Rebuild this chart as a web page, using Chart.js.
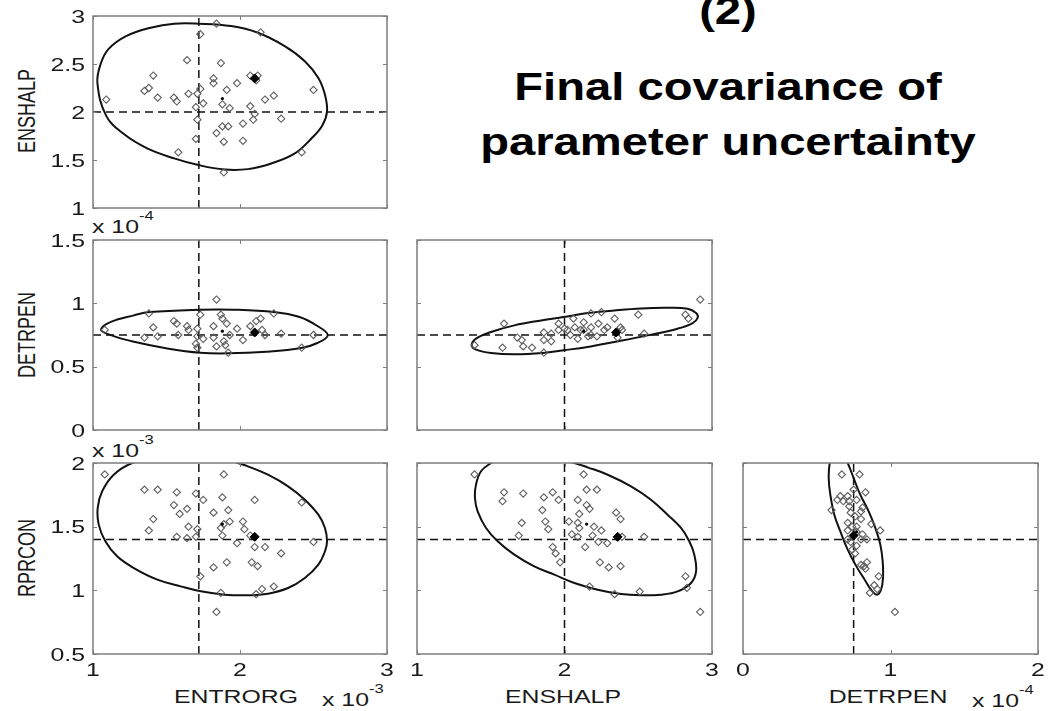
<!DOCTYPE html>
<html>
<head>
<meta charset="utf-8">
<title>Final covariance of parameter uncertainty</title>
<script src="https://cdn.jsdelivr.net/npm/chart.js@4.4.1/dist/chart.umd.min.js"></script>
<style>
  html, body { margin: 0; padding: 0; background: #fff; }
  #page { position: relative; width: 1053px; height: 711px; overflow: hidden;
          font-family: "Liberation Sans", Arial, Helvetica, sans-serif; color: #1a1a1a; }
  #page canvas { position: absolute; }
  .lbl { position: absolute; font-size: 18px; line-height: 18px; white-space: nowrap; }
  .xt { width: 200px; text-align: center; transform: scaleX(1.38); }
  .yt { transform: translate(-50%, -50%) scaleX(1.38) rotate(-90deg); }
  .ex { transform: scaleX(1.38); transform-origin: 0 0; }
  .ex span { position: relative; top: -13px; font-size: 12px; }
  .ttl { position: absolute; left: 428px; width: 600px; text-align: center; font-weight: bold;
         font-size: 39px; line-height: 39px; color: #000; transform: scaleX(1.21); white-space: nowrap; }
</style>
</head>
<body>
<div id="page">
  <div class="ttl" style="top:-9px">(2)</div>
  <div class="ttl" style="top:67px">Final covariance of</div>
  <div class="ttl" style="top:122px">parameter uncertainty</div>

  <div class="lbl yt" style="left:27px; top:111px">ENSHALP</div>
  <div class="lbl yt" style="left:27px; top:335px">DETRPEN</div>
  <div class="lbl yt" style="left:27px; top:558px">RPRCON</div>

  <div class="lbl xt" style="left:136px; top:688px">ENTRORG</div>
  <div class="lbl xt" style="left:463px; top:688px">ENSHALP</div>
  <div class="lbl xt" style="left:788px; top:688px">DETRPEN</div>

  <div class="lbl ex" style="left:92px; top:218px">x 10<span>-4</span></div>
  <div class="lbl ex" style="left:92px; top:442px">x 10<span>-3</span></div>
  <div class="lbl ex" style="left:322px; top:691px">x 10<span>-3</span></div>
  <div class="lbl ex" style="left:972px; top:692px">x 10<span>-4</span></div>
</div>
<script>
// reference (prior) values of the four parameters, scaled units
var refEntrorg = 1.72;   // x 10^-3
var refEnshalp = 2.0;
var refDetrpen = 0.75;   // x 10^-4
var refRprcon = 1.4;     // x 10^-3

// ensemble members, one [x, y] list per panel
var entrorgEnshalp = [[1.84,2.92],[2.14,2.83],[1.73,2.81],[1.64,2.54],[1.87,2.51],[1.41,2.38],[1.82,2.35],[2.07,2.38],[2.12,2.38],[2.11,2.33],[1.98,2.30],[1.82,2.30],[1.35,2.22],[1.38,2.25],[1.44,2.15],[1.55,2.15],[1.57,2.11],[1.65,2.19],[1.71,2.19],[1.73,2.24],[1.91,2.23],[1.09,2.13],[2.17,2.13],[2.23,2.17],[2.50,2.23],[1.70,2.05],[1.75,2.09],[1.88,2.08],[1.93,2.04],[2.07,2.06],[2.10,1.98],[1.71,1.92],[2.09,1.92],[2.28,1.93],[1.88,1.85],[1.92,1.85],[2.02,1.88],[1.84,1.78],[1.70,1.72],[1.89,1.69],[2.02,1.70],[1.58,1.58],[2.42,1.58],[1.89,1.37]];
var entrorgDetrpen = [[1.84,1.03],[1.38,0.92],[2.23,0.92],[1.73,0.91],[1.87,0.91],[1.88,0.88],[2.14,0.88],[2.11,0.86],[1.55,0.86],[1.57,0.84],[1.64,0.82],[1.82,0.82],[1.91,0.84],[2.07,0.82],[1.41,0.81],[1.71,0.80],[1.65,0.79],[1.98,0.80],[1.08,0.79],[2.15,0.79],[2.17,0.75],[2.28,0.76],[2.50,0.75],[1.35,0.73],[1.44,0.74],[1.58,0.75],[1.71,0.74],[1.93,0.75],[1.82,0.73],[1.75,0.72],[1.89,0.70],[2.02,0.71],[1.70,0.68],[1.84,0.66],[1.90,0.67],[2.42,0.65],[1.71,0.65],[1.92,0.61]];
var entrorgRprcon = [[1.08,1.91],[1.89,1.91],[1.35,1.79],[1.44,1.79],[1.57,1.77],[1.70,1.76],[1.75,1.71],[1.88,1.73],[2.10,1.71],[2.42,1.69],[1.55,1.67],[1.64,1.64],[1.59,1.60],[1.82,1.61],[1.92,1.63],[1.41,1.56],[1.93,1.54],[1.89,1.52],[2.02,1.54],[2.03,1.48],[1.65,1.50],[1.38,1.47],[1.71,1.48],[1.87,1.49],[1.88,1.43],[1.57,1.42],[1.64,1.41],[1.70,1.42],[2.07,1.43],[1.98,1.37],[2.50,1.38],[2.10,1.34],[2.17,1.34],[2.28,1.29],[1.91,1.22],[2.08,1.22],[2.12,1.19],[1.82,1.18],[1.73,1.11],[2.15,1.01],[2.23,1.03],[1.87,0.98],[2.11,0.97],[1.84,0.83]];
var enshalpDetrpen = [[2.92,1.03],[1.59,0.84],[1.39,0.67],[1.58,0.65],[1.72,0.66],[1.78,0.65],[1.86,0.61],[1.68,0.73],[1.71,0.71],[1.86,0.77],[1.91,0.76],[1.86,0.71],[1.91,0.70],[1.96,0.84],[2.06,0.88],[2.18,0.92],[2.25,0.93],[2.34,0.88],[2.50,0.91],[2.82,0.91],[2.84,0.88],[2.54,0.76],[2.36,0.73],[2.38,0.81],[2.29,0.81],[2.23,0.84],[2.13,0.85],[2.13,0.79],[2.18,0.81],[2.22,0.74],[2.16,0.74],[2.09,0.72],[2.04,0.75],[2.02,0.79],[2.07,0.81],[2.11,0.79],[2.18,0.75],[2.27,0.79],[2.39,0.79],[1.96,0.79],[2.00,0.80]];
var enshalpRprcon = [[1.39,1.91],[2.13,1.91],[1.59,1.77],[1.72,1.76],[1.92,1.77],[2.15,1.79],[2.22,1.79],[1.58,1.70],[1.86,1.73],[1.96,1.71],[2.09,1.71],[2.15,1.67],[2.17,1.64],[1.85,1.63],[2.10,1.60],[2.35,1.61],[2.38,1.56],[1.71,1.53],[1.87,1.54],[2.03,1.54],[2.09,1.53],[1.89,1.48],[2.10,1.49],[2.20,1.50],[2.25,1.47],[1.69,1.43],[2.05,1.44],[2.09,1.42],[2.19,1.43],[2.23,1.38],[2.29,1.37],[2.39,1.42],[2.54,1.42],[1.92,1.34],[2.14,1.34],[1.94,1.29],[1.97,1.22],[2.24,1.22],[2.30,1.18],[2.38,1.19],[2.82,1.11],[2.83,1.02],[2.17,1.03],[2.34,0.97],[2.51,0.99],[2.92,0.83]];
var detrpenRprcon = [[0.67,1.91],[0.79,1.91],[0.83,1.77],[0.75,1.79],[0.66,1.74],[0.71,1.74],[0.64,1.71],[0.77,1.71],[0.72,1.70],[0.81,1.65],[0.60,1.63],[0.73,1.61],[0.76,1.58],[0.80,1.56],[0.71,1.53],[0.74,1.50],[0.87,1.52],[0.93,1.47],[0.71,1.47],[0.77,1.46],[0.80,1.40],[0.73,1.38],[0.77,1.35],[0.76,1.29],[0.84,1.22],[0.82,1.19],[0.92,1.11],[0.89,1.04],[0.86,0.98],[0.91,1.01],[1.03,0.83],[0.68,1.70],[0.72,1.66],[0.80,1.62],[0.77,1.50],[0.81,1.44],[0.71,1.40],[0.84,1.40],[0.74,1.32],[0.80,1.20],[0.83,1.17]];

// ensemble mean (small dot) and best estimate (filled diamond) per panel
var meanPts = [[1.88,2.14],[1.88,0.78],[2.13,0.78],[1.88,1.52],[2.15,1.52],[0.77,1.46]];
var bestPts = [[2.10,2.35],[2.10,0.77],[2.35,0.77],[2.10,1.42],[2.36,1.42],[0.75,1.43]];

// outline of the covariance ellipse in each panel
var ellEntrorgEnshalp = [[1.030,2.300],[1.052,2.500],[1.105,2.655],[1.225,2.790],[1.392,2.878],[1.552,2.920],[1.718,2.920],[1.940,2.895],[2.122,2.825],[2.304,2.686],[2.441,2.529],[2.533,2.354],[2.578,2.180],[2.592,2.005],[2.560,1.860],[2.487,1.726],[2.373,1.569],[2.213,1.464],[2.054,1.405],[1.894,1.401],[1.718,1.447],[1.552,1.517],[1.369,1.621],[1.210,1.770],[1.090,1.960]];
var ellEntrorgDetrpen = [[1.054,0.793],[1.122,0.853],[1.279,0.905],[1.383,0.931],[1.730,0.950],[1.955,0.950],[2.230,0.931],[2.405,0.892],[2.518,0.827],[2.597,0.749],[2.518,0.683],[2.417,0.647],[2.180,0.618],[1.917,0.605],[1.730,0.610],[1.505,0.644],[1.279,0.696],[1.122,0.749]];
var ellEntrorgRprcon = [[1.267,2.000],[1.141,1.908],[1.062,1.777],[1.032,1.647],[1.039,1.516],[1.084,1.385],[1.164,1.267],[1.278,1.175],[1.438,1.084],[1.597,1.031],[1.734,0.992],[1.894,0.966],[2.054,0.961],[2.190,0.974],[2.327,1.018],[2.441,1.097],[2.533,1.202],[2.578,1.306],[2.592,1.385],[2.578,1.490],[2.533,1.594],[2.441,1.712],[2.327,1.817],[2.190,1.908],[2.054,1.974],[1.985,2.000],[1.848,2.052],[1.666,2.086],[1.461,2.052]];
var ellEnshalpDetrpen = [[1.371,0.669],[1.400,0.721],[1.502,0.774],[1.660,0.826],[1.841,0.865],[1.992,0.892],[2.157,0.923],[2.338,0.944],[2.519,0.960],[2.699,0.965],[2.835,0.957],[2.892,0.923],[2.903,0.886],[2.869,0.844],[2.767,0.800],[2.564,0.747],[2.338,0.695],[2.157,0.656],[1.992,0.629],[1.852,0.608],[1.660,0.598],[1.502,0.608],[1.400,0.635]];
var ellEnshalpRprcon = [[1.502,2.000],[1.434,1.935],[1.400,1.830],[1.393,1.725],[1.411,1.620],[1.468,1.490],[1.547,1.385],[1.660,1.280],[1.795,1.188],[1.931,1.123],[2.067,1.058],[2.225,1.005],[2.383,0.971],[2.519,0.961],[2.654,0.966],[2.767,0.992],[2.858,1.058],[2.892,1.149],[2.880,1.280],[2.846,1.385],[2.790,1.490],[2.699,1.594],[2.586,1.712],[2.451,1.817],[2.293,1.908],[2.157,1.966],[2.067,2.000],[1.886,2.052],[1.705,2.071],[1.569,2.039]];
var ellDetrpenRprcon = [[0.588,2.000],[0.581,1.882],[0.592,1.751],[0.619,1.594],[0.660,1.463],[0.705,1.332],[0.762,1.202],[0.818,1.097],[0.868,1.005],[0.908,0.966],[0.936,1.005],[0.949,1.097],[0.947,1.228],[0.931,1.359],[0.897,1.490],[0.852,1.620],[0.795,1.751],[0.750,1.882],[0.710,2.000],[0.660,2.118],[0.615,2.105]];

// axis ranges
var rangeEntrorg = [1, 3];
var rangeEnshalp = [1, 3];
var rangeDetrpen = [0, 2];
var rangeDetrpenY = [0, 1.5];
var rangeRprcon = [0.5, 2];

// frame, inward ticks on all four sides and tick labels, drawn the old matlab way
var matlabAxes = {
    id: 'matlabAxes',
    afterDatasetsDraw: function(chart, args, opts) {
        var ctx = chart.ctx, a = chart.chartArea;
        var sx = chart.scales.x, sy = chart.scales.y;
        ctx.save();
        ctx.strokeStyle = '#7d7d7d';
        ctx.lineWidth = 1.5;
        ctx.strokeRect(a.left, a.top, a.right - a.left, a.bottom - a.top);
        ctx.lineWidth = 1;
        ctx.beginPath();
        sx.ticks.forEach(function(t) {
            var px = Math.round(sx.getPixelForValue(t.value)) + 0.5;
            ctx.moveTo(px, a.bottom); ctx.lineTo(px, a.bottom - 4);
            ctx.moveTo(px, a.top); ctx.lineTo(px, a.top + 4);
        });
        sy.ticks.forEach(function(t) {
            var py = Math.round(sy.getPixelForValue(t.value)) + 0.5;
            ctx.moveTo(a.left, py); ctx.lineTo(a.left + 4, py);
            ctx.moveTo(a.right, py); ctx.lineTo(a.right - 4, py);
        });
        ctx.stroke();

        ctx.fillStyle = '#1a1a1a';
        ctx.font = '18px "Liberation Sans", Arial, sans-serif';
        ctx.textBaseline = 'alphabetic';
        function fmt(v) { return String(Math.round(v * 10) / 10); }
        function stretched(txt, x, y, align) {
            ctx.save();
            ctx.translate(x, y);
            ctx.scale(1.38, 1);
            ctx.textAlign = align;
            ctx.fillText(txt, 0, 0);
            ctx.restore();
        }
        if (opts.xLabels) {
            sx.ticks.forEach(function(t) {
                stretched(fmt(t.value), sx.getPixelForValue(t.value), a.bottom + 22, 'center');
            });
        }
        if (opts.yLabels) {
            sy.ticks.forEach(function(t) {
                stretched(fmt(t.value), a.left - 8, sy.getPixelForValue(t.value) + 6.5, 'right');
            });
        }
        ctx.restore();
    }
};

var M = {l: 75, t: 10, r: 12, b: 40};

var panels = [
    {box: [93, 16, 294, 192], xr: rangeEntrorg, yr: rangeEnshalp, pts: entrorgEnshalp, ell: ellEntrorgEnshalp, rx: refEntrorg, ry: refEnshalp, xl: false, yl: true},
    {box: [93, 240, 294, 190], xr: rangeEntrorg, yr: rangeDetrpenY, pts: entrorgDetrpen, ell: ellEntrorgDetrpen, rx: refEntrorg, ry: refDetrpen, xl: false, yl: true},
    {box: [417, 240, 295, 190], xr: rangeEnshalp, yr: rangeDetrpenY, pts: enshalpDetrpen, ell: ellEnshalpDetrpen, rx: refEnshalp, ry: refDetrpen, xl: false, yl: false},
    {box: [93, 463, 294, 191], xr: rangeEntrorg, yr: rangeRprcon, pts: entrorgRprcon, ell: ellEntrorgRprcon, rx: refEntrorg, ry: refRprcon, xl: true, yl: true},
    {box: [417, 463, 295, 191], xr: rangeEnshalp, yr: rangeRprcon, pts: enshalpRprcon, ell: ellEnshalpRprcon, rx: refEnshalp, ry: refRprcon, xl: true, yl: false},
    {box: [743, 463, 295, 191], xr: rangeDetrpen, yr: rangeRprcon, pts: detrpenRprcon, ell: ellDetrpenRprcon, rx: refDetrpen, ry: refRprcon, xl: true, yl: false}
];

function toXY(list) {
    return list.map(function(p) { return {x: p[0], y: p[1]}; });
}

// wrap the outline so the spline has neighbours on both sides of the seam;
// the two extra end segments are left invisible
function ring(list) {
    var n = list.length;
    return toXY([list[n - 1]].concat(list, [list[0], list[1]]));
}

var page = document.getElementById('page');
panels.forEach(function(p, i) {
    var c = document.createElement('canvas');
    c.width = p.box[2] + M.l + M.r;
    c.height = p.box[3] + M.t + M.b;
    c.style.left = (p.box[0] - M.l) + 'px';
    c.style.top = (p.box[1] - M.t) + 'px';
    page.appendChild(c);

    var loop = ring(p.ell);
    var dash = {showLine: true, pointRadius: 0, borderColor: '#111', borderWidth: 1.5, borderDash: [8, 5], order: 5};
    new Chart(c.getContext('2d'), {
        type: 'scatter',
        data: {
            datasets: [
                {data: toXY([bestPts[i]]), pointStyle: 'rectRot', pointRadius: 4.5, backgroundColor: '#000', borderColor: '#000', borderWidth: 1, order: 0},
                {data: toXY([meanPts[i]]), pointStyle: 'circle', pointRadius: 1.6, backgroundColor: '#000', borderColor: '#000', borderWidth: 0, order: 1},
                {data: toXY(p.pts), pointStyle: 'rectRot', pointRadius: 3.6, backgroundColor: 'rgba(255,255,255,0)', borderColor: '#5e5e5e', borderWidth: 1.1, order: 2},
                {data: loop, showLine: true, tension: 0.4, pointRadius: 0, borderColor: '#111', borderWidth: 2, order: 3,
                 segment: {borderColor: function(s) {
                     return (s.p0DataIndex === 0 || s.p0DataIndex === loop.length - 2) ? 'rgba(0,0,0,0)' : undefined;
                 }}},
                Object.assign({data: [{x: p.rx, y: p.yr[0]}, {x: p.rx, y: p.yr[1]}]}, dash),
                Object.assign({data: [{x: p.xr[0], y: p.ry}, {x: p.xr[1], y: p.ry}]}, dash)
            ]
        },
        options: {
            responsive: false,
            animation: false,
            events: [],
            layout: {padding: {left: M.l, top: M.t, right: M.r, bottom: M.b}},
            elements: {line: {capBezierPoints: false}},
            plugins: {
                legend: {display: false},
                tooltip: {enabled: false},
                matlabAxes: {xLabels: p.xl, yLabels: p.yl}
            },
            scales: {
                x: {type: 'linear', min: p.xr[0], max: p.xr[1], display: false, ticks: {stepSize: 1}},
                y: {type: 'linear', min: p.yr[0], max: p.yr[1], display: false, ticks: {stepSize: 0.5}}
            }
        },
        plugins: [matlabAxes]
    });
});
</script>
</body>
</html>
